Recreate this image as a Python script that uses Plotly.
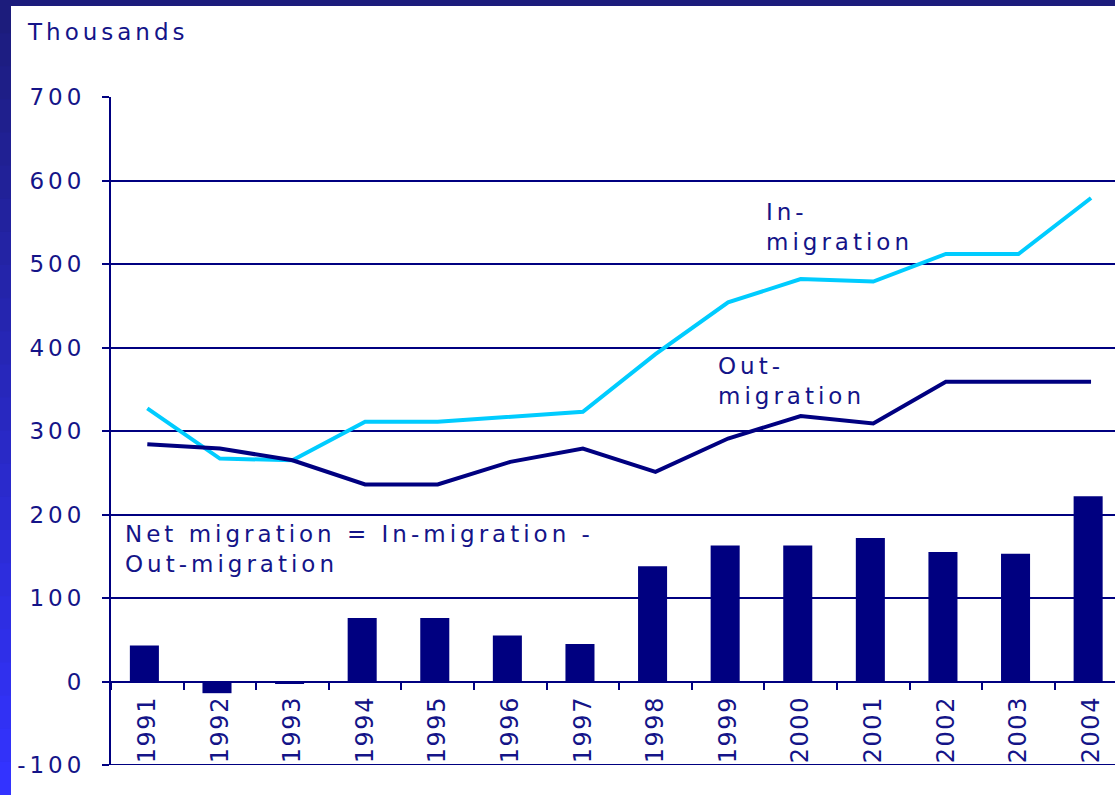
import plotly.graph_objects as go

# values (thousands)
years = ["1991", "1992", "1993", "1994", "1995", "1996", "1997",
         "1998", "1999", "2000", "2001", "2002", "2003", "2004"]
in_migration = [327, 267, 265, 311, 311, 317, 323, 392, 454, 482, 479, 512, 512, 579]
out_migration = [284, 279, 265, 236, 236, 263, 279, 251, 291, 318, 309, 359, 359, 359]
net_migration = [43, -14, -3, 76, 76, 55, 45, 138, 163, 163, 172, 155, 153, 222]
y_ticks = [-100, 0, 100, 200, 300, 400, 500, 600, 700]

NAVY = "#000080"
CYAN = "#00CCFF"
TEXT = "#141488"
FONT = "DejaVu Sans"


def spaced(txt, ls=4):
    return f'<span style="letter-spacing:{ls}px">{txt}</span>'


fig = go.Figure()

fig.add_trace(go.Bar(
    x=years, y=net_migration,
    marker=dict(color=NAVY, line=dict(width=0)),
    width=0.4,
    offset=-0.24,
))
fig.add_trace(go.Scatter(
    x=years, y=in_migration,
    mode="lines",
    line=dict(color=CYAN, width=4),
))
fig.add_trace(go.Scatter(
    x=years, y=out_migration,
    mode="lines",
    line=dict(color=NAVY, width=4),
))

fig.update_layout(
    width=1115,
    height=795,
    margin=dict(l=111, r=0, t=97, b=30),
    paper_bgcolor="white",
    plot_bgcolor="white",
    showlegend=False,
    font=dict(family=FONT, size=23, color=TEXT),
    bargap=0.6,
)

fig.update_xaxes(
    type="category",
    range=[-0.5, 13.33],
    tickmode="array",
    tickvals=years,
    ticktext=[spaced(y, 1.5) for y in years],
    tickangle=-90,
    tickfont=dict(size=24),
    tickson="boundaries",
    ticks="outside",
    ticklen=7,
    tickwidth=2,
    tickcolor=NAVY,
    ticklabelstandoff=4,
    showgrid=False,
    showline=True,
    linecolor=NAVY,
    linewidth=2,
    anchor="free",
    position=0.125,
    zeroline=False,
)

fig.update_yaxes(
    range=[-100, 700],
    tickmode="array",
    tickvals=y_ticks,
    ticktext=[spaced(str(v)) for v in y_ticks],
    ticks="outside",
    ticklen=7,
    tickwidth=2,
    tickcolor=NAVY,
    ticklabelstandoff=12,
    showgrid=True,
    gridcolor=NAVY,
    gridwidth=2,
    zeroline=True,
    zerolinecolor=NAVY,
    zerolinewidth=2,
    showline=True,
    linecolor=NAVY,
    linewidth=2,
)

# bottom rule at -100 (plotly drops the edge gridline)
fig.add_shape(type="line", xref="paper", yref="y", x0=-7 / 1004, x1=1,
              y0=-100, y1=-100, line=dict(color=NAVY, width=2))

# text labels
fig.add_annotation(
    xref="paper", yref="paper", x=-0.086, y=1.12,
    xanchor="left", yanchor="top", showarrow=False, align="left",
    text=spaced("Thousands"),
)
fig.add_annotation(
    x=8.5, y=580, xanchor="left", yanchor="top", showarrow=False, align="left",
    text=spaced("In-") + "<br>" + spaced("migration"),
)
fig.add_annotation(
    x=7.84, y=396, xanchor="left", yanchor="top", showarrow=False, align="left",
    text=spaced("Out-") + "<br>" + spaced("migration"),
)
fig.add_annotation(
    x=-0.34, y=195, xanchor="left", yanchor="top", showarrow=False, align="left",
    text=spaced("Net migration = In-migration -") + "<br>" + spaced("Out-migration"),
)

# slide frame: dark top strip and a left strip fading to bright blue
px_x = lambda p: (p - 111) / 1004
px_y = lambda p: (765 - p) / 668
fig.add_shape(type="rect", xref="paper", yref="paper",
              x0=px_x(0), x1=px_x(1115), y0=px_y(6), y1=px_y(0),
              fillcolor="#1c1c7c", line_width=0, layer="above")
steps = 24
top_rgb = (28, 28, 124)
bot_rgb = (51, 51, 255)
for i in range(steps):
    t = i / (steps - 1)
    c = tuple(round(a + (b - a) * t) for a, b in zip(top_rgb, bot_rgb))
    y_top = 795 * i / steps
    y_bot = 795 * (i + 1) / steps + 1
    fig.add_shape(type="rect", xref="paper", yref="paper",
                  x0=px_x(0), x1=px_x(11), y0=px_y(y_bot), y1=px_y(y_top),
                  fillcolor="rgb(%d,%d,%d)" % c, line_width=0, layer="above")

# drop the default page margin so the figure sits flush in the window
fig.write_html("out.html", config={"displayModeBar": False},
               post_script="document.body.style.margin='0';")
